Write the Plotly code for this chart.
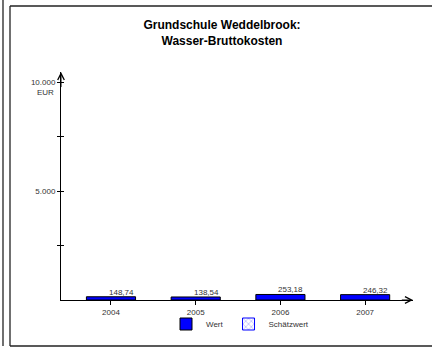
import plotly.graph_objects as go

# Jahreswerte Wasser-Bruttokosten (EUR)
jahre = ['2004', '2005', '2006', '2007']
wert = [148.74, 138.54, 253.18, 246.32]
schaetzwert = [None, None, None, None]

y_tickvals = [2500, 5000, 7500, 10000]
y_ticktext = ['', '5.000', '', '10.000']

# plot area in pixels (canvas 432x347)
L, R, T, B = 61, 413, 72, 300
W, H = 432, 347
x_range = [-0.59, 3.565]
y_range = [0, 10459]


def fmt(v):
    return f"{v:,.2f}".replace(',', 'X').replace('.', ',').replace('X', '.')


def px_x(p):
    return (p - L) / (R - L)


def px_y(p):
    return (B - p) / (B - T)


fig = go.Figure()

fig.add_trace(go.Bar(
    x=jahre, y=wert, name='Wert',
    marker=dict(color='#0000FF', line=dict(color='#000000', width=1)),
    width=0.58,
))
fig.add_trace(go.Bar(
    x=jahre, y=schaetzwert, name='Schätzwert',
    marker=dict(color='white', line=dict(color='#0000FF', width=1),
                pattern=dict(shape='x', fgcolor='#0000FF', size=5, solidity=0.2)),
    width=0.58,
))
# dummy trace so the overlay axis (inner tick halves) gets drawn
fig.add_trace(go.Scatter(x=[None], y=[None], yaxis='y2', showlegend=False, hoverinfo='skip'))

annotations = []
for i, v in enumerate(wert):
    # category index, label right-aligned to the bar's right edge
    annotations.append(dict(
        x=i, y=v, xref='x', yref='y', text=fmt(v), showarrow=False,
        xanchor='right', yanchor='bottom', xshift=25, yshift=-2,
        font=dict(family='Liberation Sans, Arial', size=8, color='#333333'),
    ))

# EUR unit below the top tick label
annotations.append(dict(
    x=x_range[0], y=10000, xref='x', yref='y', text='EUR', showarrow=False,
    xanchor='right', yanchor='middle', xshift=-5, yshift=-10,
    font=dict(family='Liberation Sans, Arial', size=8, color='#333333'),
))
# axis arrows
annotations.append(dict(
    x=x_range[0], y=y_range[1], ax=x_range[0], ay=9700, xref='x', yref='y',
    axref='x', ayref='y', text='', showarrow=True, arrowhead=5, arrowsize=1.3,
    arrowwidth=1, arrowcolor='#000000', standoff=0,
))
annotations.append(dict(
    x=x_range[1], y=0, ax=x_range[1] - 0.15, ay=0, xref='x', yref='y',
    axref='x', ayref='y', text='', showarrow=True, arrowhead=5, arrowsize=1.3,
    arrowwidth=1, arrowcolor='#000000', standoff=0,
))

# page frame: outer left rule plus an open box running off the right edge
frame = dict(color='#222222', width=1.3)
shapes = [
    dict(type='line', xref='paper', yref='paper',
         x0=px_x(3), x1=px_x(3), y0=px_y(0), y1=px_y(346), line=frame),
    dict(type='line', xref='paper', yref='paper',
         x0=px_x(10), x1=px_x(10), y0=px_y(346), y1=px_y(6), line=frame),
    dict(type='line', xref='paper', yref='paper',
         x0=px_x(10), x1=px_x(432), y0=px_y(6), y1=px_y(6), line=frame),
    dict(type='line', xref='paper', yref='paper',
         x0=px_x(10), x1=px_x(432), y0=px_y(346), y1=px_y(346), line=frame),
]

fig.update_layout(
    width=W, height=H,
    margin=dict(l=L, r=W - R, t=T, b=H - B, autoexpand=False),
    paper_bgcolor='white', plot_bgcolor='white',
    barmode='overlay',
    title=dict(
        text='<b>Grundschule Weddelbrook:<br>Wasser-Bruttokosten</b>',
        x=222 / W, xanchor='center', y=1 - 29 / H, yanchor='top',
        font=dict(family='Liberation Sans, Arial', size=12, color='#000000'),
    ),
    font=dict(family='Liberation Sans, Arial', size=8, color='#333333'),
    xaxis=dict(
        type='category', range=x_range, showline=True, linecolor='#000000',
        linewidth=1, ticks='outside', ticklen=4, tickcolor='#000000',
        showgrid=False, zeroline=False, fixedrange=True,
        tickfont=dict(size=8, color='#333333'),
    ),
    yaxis=dict(
        range=y_range, showline=True, linecolor='#000000', linewidth=1,
        tickmode='array', tickvals=y_tickvals, ticktext=y_ticktext,
        ticks='outside', ticklen=3, tickcolor='#000000', showgrid=False,
        zeroline=False, tickfont=dict(size=8, color='#333333'),
    ),
    yaxis2=dict(
        range=y_range, overlaying='y', anchor='x', side='left', showline=False,
        tickmode='array', tickvals=y_tickvals, ticks='inside', ticklen=3,
        tickcolor='#000000', showticklabels=False, showgrid=False, zeroline=False,
    ),
    legend=dict(
        orientation='h', xref='container', yref='container',
        x=240 / W, xanchor='center', y=1 - 324 / H, yanchor='middle',
        bgcolor='rgba(0,0,0,0)',
        font=dict(size=8, color='#333333'), itemwidth=30,
    ),
    annotations=annotations,
    shapes=shapes,
)

# drop the browser's default body margin and scrollbars so the figure sits at 0,0
fig.write_html('out.html', config={'displayModeBar': False},
               post_script="document.body.style.margin='0';"
                           "document.body.style.overflow='hidden';")
